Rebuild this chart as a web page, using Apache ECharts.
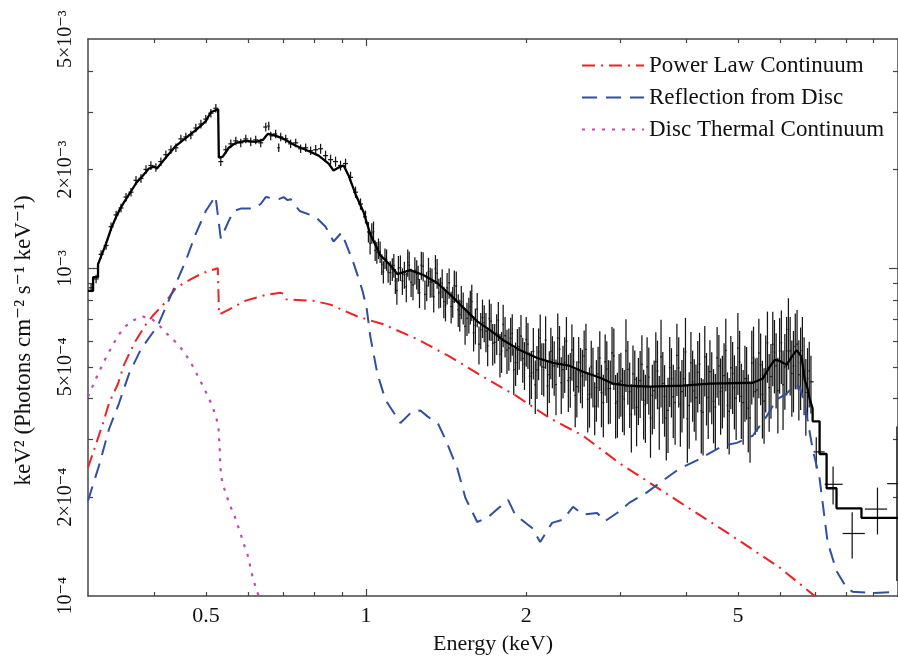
<!DOCTYPE html>
<html>
<head>
<meta charset="utf-8">
<title>keV² spectrum</title>
<script src="https://cdn.jsdelivr.net/npm/echarts@6.0.0/dist/echarts.min.js"></script>
<style>
  html, body { margin: 0; padding: 0; background: #fff; }
  #chart { width: 898px; height: 660px; }
</style>
</head>
<body>
<div id="chart"></div>
<script>
// observed spectrum: [energy (keV), keV^2 flux, 1-sigma error]
var spectrum = [
  [0.3041, 8.71e-4, 2.6e-5], [0.3107, 9.27e-4, 2.8e-5], [0.3175, 1.102e-3, 3.3e-5], [0.3245, 1.173e-3, 3.5e-5],
  [0.3315, 1.338e-3, 4.0e-5], [0.3388, 1.454e-3, 4.4e-5], [0.3461, 1.527e-3, 4.6e-5], [0.3537, 1.648e-3, 4.9e-5],
  [0.3614, 1.706e-3, 5.1e-5], [0.3693, 1.854e-3, 5.6e-5], [0.3773, 1.880e-3, 5.6e-5], [0.3856, 2.001e-3, 6.0e-5],
  [0.3939, 2.057e-3, 6.2e-5], [0.4025, 2.029e-3, 6.1e-5], [0.4113, 2.115e-3, 6.3e-5], [0.4203, 2.220e-3, 6.7e-5],
  [0.4296, 2.298e-3, 6.9e-5], [0.4389, 2.331e-3, 7.0e-5], [0.4485, 2.481e-3, 7.4e-5], [0.4583, 2.515e-3, 7.5e-5],
  [0.4683, 2.550e-3, 7.7e-5], [0.4785, 2.677e-3, 8.0e-5], [0.4891, 2.753e-3, 8.3e-5], [0.4996, 2.850e-3, 8.6e-5],
  [0.5106, 2.971e-3, 8.9e-5], [0.5218, 3.076e-3, 9.2e-5], [0.5331, 2.115e-3, 6.3e-5], [0.5448, 2.298e-3, 6.9e-5],
  [0.5567, 2.396e-3, 7.2e-5], [0.5689, 2.446e-3, 7.3e-5], [0.5812, 2.413e-3, 7.2e-5], [0.5940, 2.481e-3, 7.4e-5],
  [0.6068, 2.430e-3, 7.3e-5], [0.6201, 2.464e-3, 7.4e-5], [0.6336, 2.413e-3, 7.2e-5], [0.6476, 2.696e-3, 8.1e-5],
  [0.6561, 2.715e-3, 8.1e-5], [0.6616, 2.533e-3, 7.6e-5], [0.6760, 2.568e-3, 7.7e-5], [0.6851, 2.331e-3, 7.0e-5],
  [0.6909, 2.515e-3, 7.5e-5], [0.7061, 2.481e-3, 7.4e-5], [0.7212, 2.396e-3, 7.2e-5], [0.7373, 2.413e-3, 7.2e-5],
  [0.7531, 2.315e-3, 6.9e-5], [0.7698, 2.331e-3, 7.0e-5], [0.7864, 2.283e-3, 6.8e-5], [0.8038, 2.298e-3, 8.0e-5],
  [0.8212, 2.315e-3, 8.1e-5], [0.8390, 2.205e-3, 7.7e-5], [0.8574, 2.144e-3, 7.5e-5], [0.8760, 2.115e-3, 7.4e-5],
  [0.8952, 2.057e-3, 7.2e-5], [0.9148, 2.086e-3, 7.3e-5], [0.9348, 1.893e-3, 7.6e-5], [0.9552, 1.706e-3, 6.8e-5],
  [0.9761, 1.570e-3, 6.3e-5], [0.9974, 1.434e-3, 6.5e-5],
  [1.01, 1.29e-3, 9.3e-5], [1.025, 1.28e-3, 9.2e-5], [1.04, 1.133e-3, 8.2e-5], [1.055, 1.149e-3, 8.3e-5],
  [1.07, 1.028e-3, 7.4e-5], [1.085, 1.072e-3, 7.7e-5], [1.10, 9.73e-4, 7.0e-5], [1.12, 9.93e-4, 7.9e-5],
  [1.135, 9.14e-4, 8.0e-5], [1.15, 1.0e-3, 9.0e-5], [1.17, 9.14e-4, 8.5e-5], [1.19, 8.77e-4, 9.0e-5],
  [1.205, 1.021e-3, 1.04e-4], [1.225, 8.89e-4, 9.1e-5], [1.245, 9.59e-4, 9.8e-5], [1.26, 8.41e-4, 8.6e-5],
  [1.28, 1.014e-3, 1.04e-4], [1.30, 8.83e-4, 9.0e-5], [1.32, 9.08e-4, 9.5e-5], [1.34, 8.18e-4, 8.6e-5],
  [1.36, 9.66e-4, 1.0e-4], [1.38, 8.47e-4, 9.0e-5], [1.40, 7.90e-4, 8.7e-5], [1.42, 8.71e-4, 9.6e-5],
  [1.445, 7.63e-4, 8.5e-5], [1.465, 8.83e-4, 1.0e-4], [1.49, 7.47e-4, 8.5e-5], [1.51, 7.90e-4, 9.2e-5],
  [1.535, 6.64e-4, 8.0e-5], [1.56, 7.22e-4, 9.0e-5], [1.58, 7.90e-4, 1.0e-4], [1.605, 6.69e-4, 8.4e-5],
  [1.63, 5.86e-4, 7.8e-5], [1.655, 7.07e-4, 9.5e-5], [1.68, 6.42e-4, 8.8e-5], [1.705, 7.02e-4, 1.0e-4],
  [1.73, 5.90e-4, 8.5e-5], [1.76, 6.33e-4, 9.0e-5], [1.785, 5.47e-4, 8.3e-5], [1.81, 6.74e-4, 1.0e-4],
  [1.84, 5.62e-4, 8.7e-5], [1.87, 6.11e-4, 9.5e-5], [1.895, 4.90e-4, 8.0e-5], [1.925, 5.62e-4, 9.0e-5],
  [1.955, 6.20e-4, 1.0e-4], [1.985, 5.10e-4, 8.5e-5], [2.015, 5.86e-4, 9.4e-5], [2.045, 4.79e-4, 8.0e-5],
  [2.08, 4.41e-4, 8.2e-5], [2.11, 5.55e-4, 1.0e-4], [2.14, 5.00e-4, 9.0e-5], [2.175, 6.03e-4, 1.1e-4],
  [2.21, 4.73e-4, 8.5e-5], [2.24, 5.25e-4, 9.5e-5], [2.275, 4.41e-4, 8.5e-5], [2.31, 5.66e-4, 1.0e-4],
  [2.345, 4.90e-4, 9.0e-5], [2.38, 5.99e-4, 1.1e-4], [2.42, 4.63e-4, 8.8e-5], [2.455, 5.18e-4, 9.8e-5],
  [2.49, 4.35e-4, 8.5e-5], [2.53, 4.79e-4, 9.2e-5], [2.57, 5.40e-4, 1.05e-4], [2.61, 3.98e-4, 8.3e-5],
  [2.65, 5.00e-4, 1.0e-4], [2.69, 3.79e-4, 7.0e-5], [2.73, 4.76e-4, 1.0e-4], [2.77, 4.17e-4, 9.0e-5],
  [2.815, 5.18e-4, 1.1e-4], [2.855, 4.29e-4, 9.5e-5], [2.90, 5.51e-4, 1.1e-4], [2.945, 3.87e-4, 8.5e-5],
  [2.99, 4.47e-4, 1.0e-4], [3.035, 4.06e-4, 9.0e-5], [3.08, 5.59e-4, 1.4e-4], [3.13, 4.20e-4, 9.5e-5],
  [3.175, 4.76e-4, 1.05e-4], [3.225, 3.76e-4, 9.0e-5], [3.275, 4.54e-4, 1.05e-4], [3.325, 3.95e-4, 9.5e-5],
  [3.375, 5.00e-4, 1.15e-4], [3.425, 3.49e-4, 8.5e-5], [3.48, 4.23e-4, 1.0e-4], [3.53, 4.86e-4, 1.15e-4],
  [3.585, 5.36e-4, 1.6e-4], [3.64, 4.06e-4, 1.0e-4], [3.695, 3.68e-4, 9.5e-5], [3.75, 4.60e-4, 1.1e-4],
  [3.81, 3.89e-4, 1.0e-4], [3.87, 4.96e-4, 1.2e-4], [3.925, 4.20e-4, 1.05e-4], [3.985, 5.55e-4, 1.5e-4],
  [4.05, 3.81e-4, 1.0e-4], [4.11, 4.50e-4, 1.1e-4], [4.17, 4.03e-4, 1.05e-4], [4.235, 5.10e-4, 1.25e-4],
  [4.30, 3.63e-4, 9.5e-5], [4.365, 4.41e-4, 1.1e-4], [4.43, 4.83e-4, 1.2e-4], [4.50, 3.92e-4, 1.0e-4],
  [4.57, 5.32e-4, 1.3e-4], [4.64, 4.20e-4, 1.1e-4], [4.71, 4.70e-4, 1.2e-4], [4.78, 3.81e-4, 1.0e-4],
  [4.85, 4.96e-4, 1.25e-4], [4.925, 4.32e-4, 1.1e-4], [5.00, 5.70e-4, 1.6e-4], [5.075, 4.06e-4, 1.05e-4],
  [5.155, 4.60e-4, 1.2e-4], [5.23, 3.74e-4, 1.0e-4], [5.31, 5.14e-4, 1.3e-4], [5.39, 4.20e-4, 1.1e-4],
  [5.475, 5.51e-4, 1.5e-4], [5.56, 4.12e-4, 1.1e-4], [5.64, 4.93e-4, 1.3e-4], [5.725, 4.32e-4, 1.15e-4],
  [5.815, 5.86e-4, 1.5e-4], [5.90, 5.03e-4, 1.3e-4], [5.99, 5.59e-4, 1.45e-4], [6.08, 4.41e-4, 1.2e-4],
  [6.175, 5.59e-4, 1.5e-4], [6.27, 5.59e-4, 1.5e-4], [6.36, 5.03e-4, 1.4e-4], [6.46, 5.86e-4, 1.6e-4],
  [6.56, 5.14e-4, 1.45e-4], [6.66, 4.86e-4, 1.3e-4], [6.76, 4.60e-4, 1.1e-4], [6.86, 4.50e-4, 9.0e-5],
  [7.02, 2.75e-4, 3.0e-5], [7.55, 2.19e-4, 2.9e-5], [8.2, 1.55e-4, 2.5e-5], [9.15, 1.84e-4, 3.0e-5],
  [9.95, 2.20e-4, 1.09e-4]
];

// the interleaved channels of the crowded 1-7 keV stretch
var spectrumFine = [
  [1.0175, 1.19e-3, 9.0e-5], [1.0325, 1.293e-3, 9.5e-5], [1.0475, 1.116e-3, 8.5e-5], [1.0625, 1.122e-3, 8.5e-5],
  [1.0775, 9.74e-4, 7.6e-5], [1.0925, 1.061e-3, 8.0e-5], [1.11, 9.69e-4, 8.0e-5], [1.1275, 1.02e-3, 8.5e-5],
  [1.1425, 8.54e-4, 8.0e-5], [1.16, 1.004e-3, 9.0e-5], [1.18, 9.56e-4, 9.0e-5], [1.1975, 1.041e-3, 1.0e-4],
  [1.215, 9.06e-4, 9.0e-5], [1.235, 9.85e-4, 9.5e-5], [1.2525, 9.26e-4, 9.2e-5], [1.27, 1.022e-3, 1.0e-4],
  [1.29, 8.32e-4, 8.5e-5], [1.31, 9.77e-4, 9.8e-5], [1.33, 9.06e-4, 9.2e-5], [1.35, 9.96e-4, 1.0e-4],
  [1.37, 8.41e-4, 8.8e-5], [1.39, 9.01e-4, 9.2e-5], [1.41, 7.70e-4, 8.2e-5], [1.4325, 9.02e-4, 9.5e-5],
  [1.455, 7.91e-4, 8.5e-5], [1.4775, 8.82e-4, 9.5e-5], [1.50, 7.21e-4, 8.0e-5], [1.5225, 7.58e-4, 8.5e-5],
  [1.5475, 7.03e-4, 8.2e-5], [1.57, 7.63e-4, 9.0e-5], [1.5925, 6.35e-4, 7.8e-5], [1.6175, 7.50e-4, 9.0e-5],
  [1.6425, 6.48e-4, 8.2e-5], [1.6675, 6.82e-4, 8.8e-5], [1.6925, 5.80e-4, 7.8e-5], [1.7175, 6.89e-4, 9.0e-5],
  [1.745, 5.94e-4, 8.2e-5], [1.7725, 6.94e-4, 9.5e-5], [1.7975, 5.59e-4, 8.0e-5], [1.825, 6.22e-4, 8.8e-5],
  [1.855, 5.70e-4, 8.4e-5], [1.8825, 6.32e-4, 9.2e-5], [1.91, 5.15e-4, 7.8e-5], [1.94, 5.76e-4, 8.6e-5],
  [1.97, 5.30e-4, 8.3e-5], [2.00, 6.05e-4, 1.05e-4], [2.03, 4.68e-4, 8.5e-5], [2.0625, 5.57e-4, 1.0e-4],
  [2.095, 4.89e-4, 9.0e-5], [2.125, 6.12e-4, 1.1e-4], [2.1575, 4.98e-4, 9.2e-5], [2.1925, 4.37e-4, 8.5e-5],
  [2.225, 5.58e-4, 1.0e-4], [2.2575, 5.03e-4, 9.5e-5], [2.2925, 6.12e-4, 1.15e-4], [2.3275, 4.47e-4, 8.8e-5],
  [2.3625, 5.16e-4, 1.0e-4], [2.40, 4.54e-4, 9.0e-5], [2.4375, 5.63e-4, 1.1e-4], [2.4725, 4.09e-4, 8.2e-5],
  [2.51, 5.17e-4, 1.0e-4], [2.55, 4.69e-4, 9.5e-5], [2.59, 5.65e-4, 1.12e-4], [2.63, 4.12e-4, 8.6e-5],
  [2.67, 4.74e-4, 9.8e-5], [2.71, 4.32e-4, 9.2e-5], [2.75, 5.32e-4, 1.1e-4], [2.7925, 3.89e-4, 8.4e-5],
  [2.835, 4.93e-4, 1.05e-4], [2.8775, 4.29e-4, 9.4e-5], [2.9225, 5.40e-4, 1.15e-4], [2.9675, 3.92e-4, 8.8e-5],
  [3.0125, 4.52e-4, 1.0e-4], [3.0575, 3.99e-4, 9.0e-5], [3.105, 4.91e-4, 1.08e-4], [3.1525, 3.58e-4, 8.4e-5],
  [3.20, 4.58e-4, 1.03e-4], [3.25, 4.32e-4, 1.0e-4], [3.30, 5.09e-4, 1.15e-4], [3.35, 3.83e-4, 9.0e-5],
  [3.40, 4.65e-4, 1.08e-4], [3.4525, 4.09e-4, 9.8e-5], [3.505, 5.18e-4, 1.2e-4], [3.5575, 3.74e-4, 9.5e-5],
  [3.6125, 4.45e-4, 1.1e-4], [3.6675, 3.49e-4, 9.0e-5], [3.7225, 4.97e-4, 1.2e-4], [3.78, 4.05e-4, 1.02e-4],
  [3.84, 5.42e-4, 1.35e-4], [3.8975, 3.85e-4, 1.0e-4], [3.955, 4.60e-4, 1.12e-4], [4.0175, 3.47e-4, 9.2e-5],
  [4.08, 5.14e-4, 1.25e-4], [4.14, 4.22e-4, 1.05e-4], [4.2025, 4.81e-4, 1.18e-4], [4.2675, 3.67e-4, 9.5e-5],
  [4.3325, 5.36e-4, 1.3e-4], [4.3975, 4.03e-4, 1.02e-4], [4.465, 4.44e-4, 1.1e-4], [4.535, 3.77e-4, 9.8e-5],
  [4.605, 5.03e-4, 1.22e-4], [4.675, 4.32e-4, 1.08e-4], [4.745, 5.61e-4, 1.4e-4], [4.815, 3.66e-4, 9.6e-5],
  [4.8875, 4.77e-4, 1.18e-4], [4.9625, 4.01e-4, 1.02e-4], [5.0375, 5.17e-4, 1.27e-4], [5.115, 3.89e-4, 1.0e-4],
  [5.1925, 4.60e-4, 1.15e-4], [5.27, 3.49e-4, 9.4e-5], [5.35, 5.33e-4, 1.3e-4], [5.4325, 4.25e-4, 1.08e-4],
  [5.5175, 5.07e-4, 1.25e-4], [5.60, 3.93e-4, 1.02e-4], [5.6825, 5.92e-4, 1.45e-4], [5.77, 4.67e-4, 1.2e-4],
  [5.8575, 5.55e-4, 1.4e-4], [5.945, 4.23e-4, 1.1e-4], [6.035, 5.93e-4, 1.5e-4], [6.1275, 5.00e-4, 1.3e-4],
  [6.2225, 6.50e-4, 1.6e-4], [6.315, 4.77e-4, 1.25e-4], [6.41, 5.77e-4, 1.5e-4], [6.51, 4.73e-4, 1.3e-4],
  [6.61, 5.60e-4, 1.5e-4], [6.71, 4.18e-4, 1.1e-4], [6.81, 4.86e-4, 1.1e-4]
];

// folded total model (stepped at the high-energy end)
var modelCurve = [
  [0.300, 8.53e-4], [0.3067, 8.53e-4], [0.3067, 9.39e-4], [0.3133, 9.39e-4], [0.3133, 1.028e-3],
  [0.3175, 1.087e-3], [0.3245, 1.190e-3], [0.3315, 1.319e-3], [0.3388, 1.434e-3], [0.3461, 1.537e-3],
  [0.3537, 1.624e-3], [0.3614, 1.717e-3], [0.3693, 1.815e-3], [0.3806, 1.919e-3], [0.3906, 2.014e-3],
  [0.3991, 2.042e-3], [0.4044, 2.014e-3], [0.4114, 2.085e-3], [0.4203, 2.175e-3], [0.4389, 2.363e-3],
  [0.4583, 2.498e-3], [0.4785, 2.640e-3], [0.4996, 2.810e-3], [0.5106, 2.991e-3], [0.5150, 3.033e-3],
  [0.5270, 3.054e-3], [0.5286, 2.175e-3], [0.5378, 2.190e-3], [0.5518, 2.331e-3], [0.5689, 2.413e-3],
  [0.5940, 2.446e-3], [0.6201, 2.429e-3], [0.6393, 2.463e-3], [0.6532, 2.568e-3], [0.6675, 2.550e-3],
  [0.6851, 2.515e-3], [0.7061, 2.463e-3], [0.7373, 2.363e-3], [0.7698, 2.298e-3], [0.8142, 2.205e-3],
  [0.8502, 2.085e-3], [0.8685, 1.987e-3], [0.8875, 2.028e-3], [0.9071, 2.057e-3], [0.9268, 1.919e-3],
  [0.9552, 1.682e-3], [0.9888, 1.484e-3], [1.019, 1.266e-3], [1.064, 1.094e-3], [1.111, 1.021e-3],
  [1.145, 9.59e-4], [1.211, 9.86e-4], [1.281, 9.53e-4], [1.361, 9.01e-4], [1.440, 8.29e-4],
  [1.523, 7.58e-4], [1.618, 6.88e-4], [1.712, 6.46e-4], [1.811, 6.03e-4], [1.949, 5.62e-4],
  [2.097, 5.32e-4], [2.247, 5.14e-4], [2.418, 5.03e-4], [2.558, 4.83e-4], [2.754, 4.63e-4],
  [2.912, 4.44e-4], [3.093, 4.38e-4], [3.417, 4.35e-4], [3.940, 4.38e-4], [4.429, 4.44e-4],
  [5.333, 4.47e-4], [5.568, 4.60e-4], [5.738, 5.00e-4], [5.863, 5.25e-4], [5.991, 5.21e-4],
  [6.175, 5.07e-4], [6.310, 5.36e-4], [6.448, 5.62e-4], [6.590, 5.36e-4], [6.675, 4.57e-4],
  [6.761, 4.29e-4], [6.821, 4.00e-4], [6.910, 3.73e-4], [6.910, 3.41e-4], [7.122, 3.41e-4],
  [7.122, 2.71e-4], [7.341, 2.71e-4], [7.341, 2.13e-4], [7.663, 2.13e-4], [7.663, 1.85e-4],
  [8.537, 1.85e-4], [8.537, 1.73e-4], [10.0, 1.73e-4]
];

var powerLaw = [
  [0.300, 2.46e-4], [0.3107, 2.91e-4], [0.3202, 3.37e-4], [0.3286, 3.87e-4], [0.3416, 4.44e-4],
  [0.3506, 5.07e-4], [0.3583, 5.47e-4], [0.3693, 6.03e-4], [0.3856, 6.74e-4], [0.3974, 7.17e-4],
  [0.4203, 7.90e-4], [0.4389, 8.71e-4], [0.4724, 9.33e-4], [0.4932, 9.66e-4], [0.5262, 1.0e-3],
  [0.5290, 7.22e-4], [0.5518, 7.47e-4], [0.5940, 7.96e-4], [0.6476, 8.29e-4], [0.6909, 8.41e-4],
  [0.6998, 8.35e-4], [0.7090, 8.02e-4], [0.7932, 7.96e-4], [0.8574, 7.74e-4], [0.9636, 7.12e-4],
  [1.078, 6.74e-4], [1.249, 6.07e-4], [1.440, 5.36e-4], [1.661, 4.66e-4], [1.923, 4.06e-4],
  [2.218, 3.48e-4], [2.558, 3.08e-4], [3.005, 2.53e-4], [3.891, 1.93e-4], [4.829, 1.54e-4],
  [5.991, 1.22e-4], [6.970, 1.0e-4]
];

var reflection = [
  [0.300, 1.95e-4], [0.3147, 2.50e-4], [0.3286, 3.23e-4], [0.3431, 3.87e-4], [0.3583, 4.76e-4],
  [0.3773, 5.66e-4], [0.4061, 6.69e-4], [0.4333, 8.53e-4], [0.4583, 1.057e-3], [0.4785, 1.275e-3],
  [0.4996, 1.495e-3], [0.5210, 1.66e-3], [0.5331, 1.23e-3], [0.5518, 1.395e-3], [0.5640, 1.495e-3],
  [0.5812, 1.52e-3], [0.6148, 1.52e-3], [0.6336, 1.570e-3], [0.6476, 1.648e-3], [0.6851, 1.624e-3],
  [0.6998, 1.648e-3], [0.7120, 1.613e-3], [0.7212, 1.624e-3], [0.7499, 1.495e-3], [0.8038, 1.434e-3],
  [0.8390, 1.338e-3], [0.8685, 1.206e-3], [0.8992, 1.284e-3], [0.9430, 1.057e-3], [0.9676, 9.33e-4],
  [0.9845, 8.53e-4], [1.002, 7.58e-4], [1.019, 6.15e-4], [1.050, 4.76e-4], [1.087, 3.97e-4],
  [1.160, 3.37e-4], [1.222, 3.66e-4], [1.265, 3.68e-4], [1.304, 3.53e-4], [1.367, 3.34e-4],
  [1.409, 3.01e-4], [1.484, 2.45e-4], [1.537, 1.99e-4], [1.618, 1.68e-4], [1.697, 1.74e-4],
  [1.772, 1.85e-4], [1.850, 1.96e-4], [1.906, 1.77e-4], [2.052, 1.61e-4], [2.125, 1.46e-4],
  [2.152, 1.51e-4], [2.237, 1.67e-4], [2.346, 1.71e-4], [2.449, 1.87e-4], [2.558, 1.77e-4],
  [2.718, 1.79e-4], [2.813, 1.69e-4], [2.963, 1.79e-4], [3.134, 1.93e-4], [3.373, 2.07e-4],
  [3.725, 2.33e-4], [3.891, 2.45e-4], [4.187, 2.59e-4], [4.685, 2.87e-4], [4.977, 2.93e-4],
  [5.333, 3.08e-4], [5.662, 3.53e-4], [5.912, 3.97e-4], [6.175, 4.14e-4], [6.397, 4.41e-4],
  [6.531, 4.35e-4], [6.675, 3.87e-4], [6.910, 2.81e-4], [7.122, 2.28e-4], [7.373, 1.46e-4],
  [7.663, 1.19e-4], [8.001, 1.06e-4], [8.211, 1.03e-4], [8.954, 1.02e-4], [10.0, 1.03e-4]
];

var discThermal = [
  [0.300, 4.05e-4], [0.3129, 4.73e-4], [0.3198, 5.10e-4], [0.3268, 5.47e-4], [0.3340, 5.82e-4],
  [0.3411, 6.20e-4], [0.3511, 6.60e-4], [0.3641, 6.92e-4], [0.3801, 7.12e-4], [0.3969, 6.97e-4],
  [0.4114, 6.60e-4], [0.4234, 6.28e-4], [0.4389, 5.94e-4], [0.4519, 5.62e-4], [0.4649, 5.25e-4],
  [0.4750, 4.93e-4], [0.4854, 4.60e-4], [0.4960, 4.29e-4], [0.5068, 4.00e-4], [0.5157, 3.73e-4],
  [0.5233, 3.48e-4], [0.5279, 3.23e-4], [0.5294, 2.97e-4], [0.5309, 2.77e-4], [0.5315, 2.59e-4],
  [0.5331, 2.38e-4], [0.5370, 2.20e-4], [0.5448, 2.06e-4], [0.5527, 1.91e-4], [0.5647, 1.77e-4],
  [0.5730, 1.65e-4], [0.5812, 1.54e-4], [0.5896, 1.43e-4], [0.5983, 1.34e-4], [0.6042, 1.25e-4],
  [0.6113, 1.15e-4], [0.6201, 1.06e-4], [0.6280, 1.0e-4]
];

// axis ticks and labels
var xTickValues = [0.5, 1, 2, 5];
var xTickLabels = ['0.5', '1', '2', '5'];
var xShortTicks = [0.4, 0.5, 0.6, 0.7, 0.8, 0.9, 2, 3, 4, 5, 6, 7, 8, 9];
var xLongTicks = [1];
var yTickValues = [1e-4, 2e-4, 5e-4, 1e-3, 2e-3, 5e-3];
var yTickLabels = ['10\u207B\u2074', '2\u00D710\u207B\u2074', '5\u00D710\u207B\u2074', '10\u207B\u00B3', '2\u00D710\u207B\u00B3', '5\u00D710\u207B\u00B3'];
var yShortTicks = [2e-4, 3e-4, 4e-4, 5e-4, 6e-4, 7e-4, 8e-4, 9e-4, 2e-3, 3e-3, 4e-3];
var yLongTicks = [1e-3];

var X_MIN = 0.3, X_MAX = 10;
var Y_MIN = 0.999e-4, Y_MAX = 5.005e-3;
var SERIF = "'Liberation Serif', 'DejaVu Serif', 'Times New Roman', serif";
var RED = '#ee2222', BLUE = '#2f4fa0', MAGENTA = '#bf4bb0';
var AXIS_COLOR = '#444';

function pickLabel(values, labels, v) {
  var best = 0;
  for (var i = 1; i < values.length; i++) {
    if (Math.abs(Math.log(values[i] / v)) < Math.abs(Math.log(values[best] / v))) best = i;
  }
  return labels[best];
}

var allChannels = spectrum.concat(spectrumFine).sort(function (a, b) { return a[0] - b[0]; });

// bin edges halfway (in log) to the neighbouring bins
var errData = allChannels.map(function (p, i) {
  var prev = allChannels[i - 1], next = allChannels[i + 1];
  var lo = prev ? Math.sqrt(prev[0] * p[0]) : null;
  var hi = next ? Math.sqrt(next[0] * p[0]) : null;
  if (lo === null) lo = p[0] * p[0] / hi;
  if (hi === null) hi = p[0] * p[0] / lo;
  return [p[0], p[1], p[2], lo, hi];
});

function renderErrorBar(params, api) {
  var e = api.value(0), v = api.value(1), err = api.value(2);
  var top = api.coord([e, v + err]);
  var bot = api.coord([e, v - err]);
  var left = api.coord([api.value(3), v]);
  var right = api.coord([api.value(4), v]);
  var style = { stroke: '#161616', lineWidth: 1.25 };
  return {
    type: 'group',
    children: [
      { type: 'line', shape: { x1: top[0], y1: top[1], x2: bot[0], y2: bot[1] }, style: style },
      { type: 'line', shape: { x1: left[0], y1: left[1], x2: right[0], y2: right[1] }, style: style }
    ]
  };
}

function logAxis(min, max, extra) {
  return Object.assign({
    type: 'log', logBase: 10, min: min, max: max, gridIndex: 0,
    splitLine: { show: false },
    axisLine: { show: false },
    axisTick: { show: false },
    axisLabel: { show: false }
  }, extra);
}

function ticks(values, len) {
  return { show: true, inside: true, length: len, customValues: values,
    lineStyle: { color: AXIS_COLOR, width: 1.2 } };
}

var chart = echarts.init(document.getElementById('chart'));

var option = {
  backgroundColor: '#fff',
  animation: false,
  grid: { left: 88, top: 39, width: 810, height: 563, show: false },
  legend: {
    data: ['Power Law Continuum', 'Reflection from Disc', 'Disc Thermal Continuum'],
    orient: 'vertical',
    left: 576,
    top: 49,
    itemWidth: 62,
    itemHeight: 10,
    itemGap: 9,
    selectedMode: false,
    itemStyle: { opacity: 0 },
    textStyle: { fontFamily: SERIF, fontSize: 23, color: '#111', padding: [0, 0, 0, 0] }
  },
  xAxis: [
    logAxis(X_MIN, X_MAX, {
      position: 'bottom',
      name: 'Energy (keV)',
      nameLocation: 'middle',
      nameGap: 37,
      nameTextStyle: { fontFamily: SERIF, fontSize: 22, color: '#111' },
      axisLine: { show: true, lineStyle: { color: AXIS_COLOR, width: 1.5 } },
      axisTick: ticks(xShortTicks, 4),
      axisLabel: {
        show: true, customValues: xTickValues, margin: 9,
        fontFamily: SERIF, fontSize: 22, color: '#111',
        formatter: function (v) { return pickLabel(xTickValues, xTickLabels, v); }
      }
    }),
    logAxis(X_MIN, X_MAX, { position: 'bottom', axisTick: ticks(xLongTicks, 7) }),
    logAxis(X_MIN, X_MAX, {
      position: 'top',
      axisLine: { show: true, lineStyle: { color: AXIS_COLOR, width: 1.5 } },
      axisTick: ticks(xShortTicks, 4)
    }),
    logAxis(X_MIN, X_MAX, { position: 'top', axisTick: ticks(xLongTicks, 7) })
  ],
  yAxis: [
    logAxis(Y_MIN, Y_MAX, {
      position: 'left',
      name: 'keV\u00B2 (Photons cm\u207B\u00B2 s\u207B\u00B9 keV\u207B\u00B9)',
      nameLocation: 'middle',
      nameGap: 53,
      nameTextStyle: { fontFamily: SERIF, fontSize: 23, color: '#111', padding: [0, 46, 0, 0] },
      axisLine: { show: true, lineStyle: { color: AXIS_COLOR, width: 1.5 } },
      axisTick: ticks(yShortTicks, 5),
      axisLabel: {
        show: true, customValues: yTickValues, rotate: 90, margin: 12,
        fontFamily: SERIF, fontSize: 20, color: '#111',
        formatter: function (v) { return pickLabel(yTickValues, yTickLabels, v); }
      }
    }),
    logAxis(Y_MIN, Y_MAX, { position: 'left', axisTick: ticks(yLongTicks, 9) }),
    logAxis(Y_MIN, Y_MAX, {
      position: 'right',
      axisLine: { show: true, lineStyle: { color: AXIS_COLOR, width: 1.5 } },
      axisTick: ticks(yShortTicks, 5)
    }),
    logAxis(Y_MIN, Y_MAX, { position: 'right', axisTick: ticks(yLongTicks, 9) })
  ],
  series: [
    {
      type: 'custom',
      name: 'Data',
      data: errData,
      renderItem: renderErrorBar,
      encode: { x: 0, y: 1 },
      clip: true,
      silent: true,
      z: 2
    },
    {
      type: 'line',
      name: 'Model',
      data: modelCurve,
      symbol: 'none',
      clip: true,
      silent: true,
      lineStyle: { color: '#000', width: 2.3 },
      itemStyle: { color: '#000' },
      z: 5
    },
    {
      type: 'line',
      name: 'Power Law Continuum',
      data: powerLaw,
      symbol: 'none',
      clip: true,
      silent: true,
      lineStyle: { color: RED, width: 2, type: [13, 6, 2, 6] },
      itemStyle: { color: RED },
      z: 4
    },
    {
      type: 'line',
      name: 'Reflection from Disc',
      data: reflection,
      symbol: 'none',
      clip: true,
      silent: true,
      lineStyle: { color: BLUE, width: 2, type: [15, 9] },
      itemStyle: { color: BLUE },
      z: 4
    },
    {
      type: 'line',
      name: 'Disc Thermal Continuum',
      data: discThermal,
      symbol: 'none',
      clip: true,
      silent: true,
      lineStyle: { color: MAGENTA, width: 2.2, type: [3, 7] },
      itemStyle: { color: MAGENTA },
      z: 4
    }
  ]
};

chart.setOption(option);
</script>
</body>
</html>
